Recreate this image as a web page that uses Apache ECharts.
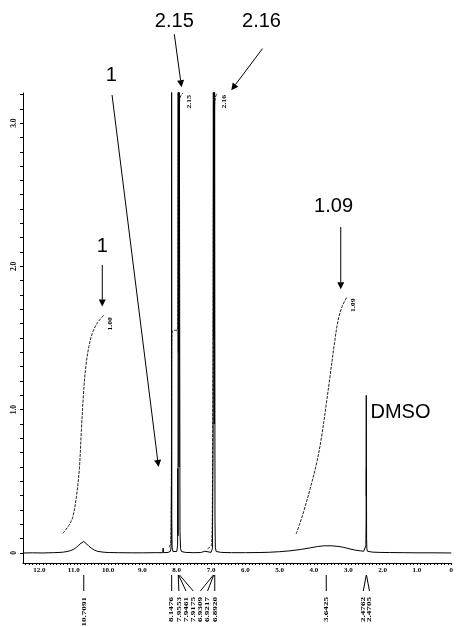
<!DOCTYPE html>
<html>
<head>
<meta charset="utf-8">
<script src="https://cdn.jsdelivr.net/npm/echarts@6/dist/echarts.min.js"></script>
<style>
html,body{margin:0;padding:0;background:#fff;}
#chart{width:456px;height:627px;}
</style>
</head>
<body>
<div id="chart"></div>
<script>
// 1H NMR spectrum (DMSO-d6): chemical shift (ppm) vs. intensity

// axis tick labels
const xTickValues = [0, 1, 2, 3, 4, 5, 6, 7, 8, 9, 10, 11, 12];
const yTickValues = [0, 1, 2, 3];

// spectrum trace: [ppm, intensity]
const spectrum = [
  [12.48,0.000],[12.2,0.001],[11.9,0.000],[11.6,0.002],[11.4,0.004],[11.3,0.006],[11.2,0.010],
  [11.1,0.016],[11.0,0.026],[10.92,0.040],[10.85,0.055],[10.79,0.068],[10.74,0.078],[10.71,0.080],
  [10.67,0.075],[10.62,0.062],[10.56,0.047],[10.48,0.032],[10.40,0.020],[10.30,0.011],[10.15,0.006],
  [10.0,0.003],[9.7,0.002],[9.3,0.001],[9.0,0.001],[8.6,0.002],[8.41,0.002],[8.395,0.035],[8.385,0.002],
  [8.25,0.004],[8.18,0.012],[8.162,0.05],[8.154,0.46],[8.151,0.30],[8.149,3.6],[8.147,3.6],[8.145,0.25],
  [8.135,0.04],[8.11,0.01],[8.06,0.005],[8.00,0.010],[7.975,0.05],[7.968,0.59],[7.963,0.12],[7.958,3.6],
  [7.955,3.6],[7.951,1.4],[7.948,3.6],[7.945,3.6],[7.935,0.6],[7.925,3.6],[7.918,3.6],[7.905,0.15],
  [7.89,0.03],[7.86,0.01],[7.75,0.004],[7.5,0.002],[7.3,0.003],[7.18,0.012],[7.16,0.002],[7.0,0.004],
  [6.96,0.03],[6.94,0.8],[6.933,3.6],[6.930,3.6],[6.926,1.5],[6.922,3.6],[6.919,3.6],[6.905,0.9],
  [6.896,3.6],[6.892,3.6],[6.885,0.23],[6.875,0.04],[6.85,0.01],[6.7,0.004],[6.4,0.002],[6.0,0.002],
  [5.6,0.003],[5.3,0.005],[5.0,0.009],[4.7,0.015],[4.4,0.024],[4.1,0.036],[3.9,0.045],[3.7,0.050],
  [3.5,0.050],[3.3,0.046],[3.15,0.040],[3.12,0.046],[3.1,0.036],[2.95,0.028],[2.8,0.020],[2.65,0.015],
  [2.55,0.012],[2.50,0.016],[2.488,0.05],[2.480,0.25],[2.4762,1.10],[2.4740,0.40],[2.4720,0.59],
  [2.4705,0.59],[2.467,0.10],[2.46,0.03],[2.44,0.012],[2.3,0.006],[2.1,0.004],[1.8,0.003],[1.4,0.002],
  [1.0,0.001],[0.5,0.001],[0.0,0.000]
];

// integral curves: [ppm, running integral on the intensity scale]
const integralNH = [
  [11.32,0.137],[11.15,0.19],[11.03,0.25],[10.92,0.40],[10.84,0.58],[10.78,0.85],[10.72,1.10],
  [10.65,1.30],[10.56,1.44],[10.45,1.54],[10.30,1.61],[10.12,1.66]
];
const integralArA = [
  [8.22,0.04],[8.17,0.08],[8.155,0.6],[8.148,1.3],[8.14,1.52],[8.12,1.55],[7.97,1.56],
  [7.96,2.2],[7.95,2.9],[7.93,3.12],[7.90,3.18],[7.86,3.2],[7.81,3.21]
];
const integralArB = [
  [7.10,0.03],[6.98,0.06],[6.96,0.4],[6.94,1.5],[6.93,2.6],[6.91,3.05],[6.89,3.15],
  [6.86,3.19],[6.80,3.21]
];
const integralOH = [
  [4.52,0.133],[4.42,0.20],[4.30,0.29],[4.11,0.45],[3.92,0.63],[3.78,0.81],[3.63,1.06],[3.54,1.22],
  [3.40,1.47],[3.30,1.62],[3.18,1.72],[3.03,1.79]
];
const integralValues = ['1.00', '2.15', '2.16', '1.09'];

// picked peaks (ppm), grouped as they are labelled under the axis
const peakGroups = [
  [10.7091],
  [8.1476, 7.9553, 7.9461, 7.9175, 6.9309, 6.9217, 6.8920],
  [3.6425],
  [2.4762, 2.4705]
];

// callouts: text, text anchor, arrow start, arrow tip (all in ppm / intensity units)
const callouts = [
  { text: '2.15', at: [8.07, 3.706], from: [8.07, 3.62], to: [7.86, 3.25] },
  { text: '2.16', at: [5.53, 3.706], from: [5.50, 3.52], to: [6.41, 3.23] },
  { text: '1',    at: [9.91, 3.33],  from: [9.885, 3.196], to: [8.53, 0.60] },
  { text: '1',    at: [10.17, 2.14], from: [10.17, 2.01], to: [10.17, 1.72] },
  { text: '1.09', at: [3.43, 2.42],  from: [3.22, 2.275], to: [3.22, 1.84] },
  { text: 'DMSO', at: [1.48, 0.977] }
];

const serif = '"Liberation Serif", "Times New Roman", serif';
const sans = '"Liberation Sans", Arial, Helvetica, sans-serif';

const xMinor = [];
for (let i = 0; i <= 124; i++) xMinor.push(+(i / 10).toFixed(1));
const yMinor = [];
for (let i = 0; i <= 32; i++) yMinor.push(+(i / 10).toFixed(1));

const fmt = v => (v === 0 ? '0' : v.toFixed(1));

const chart = echarts.init(document.getElementById('chart'), null, { renderer: 'canvas' });

const integralStyle = { color: '#222', width: 1, type: [3, 1.2] };
function integralSeries(data) {
  return { type: 'line', data, symbol: 'none', silent: true, smooth: 0.35,
           lineStyle: integralStyle, z: 3 };
}

chart.setOption({
  animation: false,
  backgroundColor: '#fff',
  grid: { left: 23, right: 0, top: 93, bottom: 64 },
  xAxis: {
    type: 'value', inverse: true, min: 0, max: 12.48,
    axisLine: { onZero: false, lineStyle: { color: '#000', width: 1 } },
    axisTick: { customValues: xMinor, length: 2, lineStyle: { color: '#000', width: 1 } },
    axisLabel: {
      customValues: xTickValues, formatter: fmt, margin: 4,
      fontFamily: serif, fontWeight: 'bold', fontSize: 7, color: '#000'
    },
    splitLine: { show: false }
  },
  yAxis: {
    type: 'value', min: -0.07, max: 3.21,
    axisLine: { show: true, onZero: false, lineStyle: { color: '#000', width: 1 } },
    axisTick: { show: true, customValues: yMinor, length: 3, lineStyle: { color: '#000', width: 1 } },
    axisLabel: {
      customValues: yTickValues, formatter: fmt, rotate: 90, margin: 5,
      fontFamily: serif, fontWeight: 'bold', fontSize: 7.5, color: '#000'
    },
    splitLine: { show: false }
  },
  series: [
    { type: 'line', data: spectrum, symbol: 'none', silent: true,
      lineStyle: { color: '#000', width: 1 }, z: 4 },
    integralSeries(integralNH),
    integralSeries(integralArA),
    integralSeries(integralArB),
    integralSeries(integralOH)
  ]
});

// ---- overlay: integral values, peak picks and callouts ----
const toPx = (p, v) => chart.convertToPixel({ xAxisIndex: 0, yAxisIndex: 0 }, [p, v]);
const els = [];

function vText(text, x, yTop, size, stretch) {
  // text reading bottom-to-top, its upper end at (x, yTop)
  els.push({
    type: 'text', x, y: yTop, rotation: Math.PI / 2, scaleX: stretch || 1,
    style: {
      text, x: 0, y: 0, fill: '#000',
      font: 'bold ' + size + 'px ' + serif,
      align: 'right', textAlign: 'right', verticalAlign: 'middle', textVerticalAlign: 'middle'
    },
    silent: true
  });
}

// integral values at the upper end of each curve
[integralNH, integralArA, integralArB, integralOH].forEach((curve, i) => {
  const end = curve[curve.length - 1];
  const e = toPx(end[0], end[1]);
  vText(integralValues[i], e[0] + 6, e[1] + 2, 7, 1.1);
});

// peak-pick ticks and labels under the x axis
const axisY = toPx(0, -0.07)[1];
const pitch = 6.2;
peakGroups.forEach(group => {
  const xs = group.map(p => toPx(p, 0)[0]);
  const n = xs.length;
  let lx;
  if (n === 1) lx = xs.slice();
  else {
    const first = xs[0], last = xs[n - 1];
    if (last - first >= (n - 1) * pitch) {
      lx = xs.map((_, i) => first + (last - first) * i / (n - 1));
    } else {
      const c = (first + last) / 2;
      lx = xs.map((_, i) => c + (i - (n - 1) / 2) * pitch);
    }
  }
  group.forEach((p, i) => {
    els.push({
      type: 'polyline', silent: true,
      shape: { points: [[xs[i], axisY + 12], [lx[i], axisY + 28]] },
      style: { stroke: '#000', lineWidth: 1, fill: null }
    });
    vText(p.toFixed(4), lx[i], axisY + 34, 7, 1.3);
  });
});

// callout texts and arrows
callouts.forEach(c => {
  const t = toPx(c.at[0], c.at[1]);
  els.push({
    type: 'text', x: t[0], y: t[1], silent: true,
    style: {
      text: c.text, x: 0, y: 0, fill: '#000', font: '20px ' + sans,
      align: 'center', textAlign: 'center', verticalAlign: 'middle', textVerticalAlign: 'middle'
    }
  });
  if (c.from) {
    const a = toPx(c.from[0], c.from[1]);
    const b = toPx(c.to[0], c.to[1]);
    const dx = b[0] - a[0], dy = b[1] - a[1];
    const L = Math.hypot(dx, dy), ux = dx / L, uy = dy / L;
    const hl = 7, hw = 3.5;
    const bx = b[0] - ux * hl, by = b[1] - uy * hl;
    els.push({
      type: 'line', silent: true,
      shape: { x1: a[0], y1: a[1], x2: bx, y2: by },
      style: { stroke: '#000', lineWidth: 1 }
    });
    els.push({
      type: 'polygon', silent: true,
      shape: { points: [[b[0], b[1]], [bx - uy * hw, by + ux * hw], [bx + uy * hw, by - ux * hw]] },
      style: { fill: '#000' }
    });
  }
});

chart.setOption({ graphic: { elements: els } });
</script>
</body>
</html>
